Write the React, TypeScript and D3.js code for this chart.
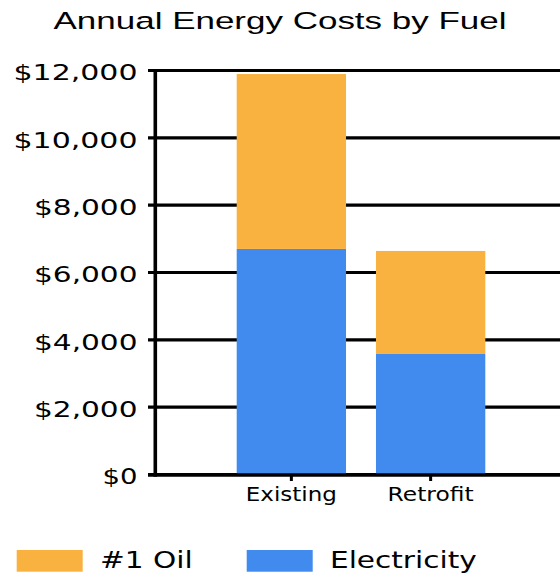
import React from "react";
import * as d3 from "d3";

const categories = ["Existing", "Retrofit"];
const electricity = [6700, 3580];
const oil = [5195, 3060];
const yTicks = [0, 2000, 4000, 6000, 8000, 10000, 12000];
const seriesNames = ["#1 Oil", "Electricity"];
const seriesColors = ["#F9B240", "#418BEE"];

const W = 560;
const H = 573;
const FONT = "'DejaVu Sans', Verdana, sans-serif";

// measured label widths (the reference is horizontally stretched)
const yLabelWidth = (s: string) => (s.length === 7 ? 124 : s.length === 6 ? 103.5 : 35);

export default function App() {
  const y = d3.scaleLinear().domain([0, 12000]).range([474.5, 70.5]);
  const x = d3
    .scaleBand<string>()
    .domain(categories)
    .range([236.7, 485.3])
    .paddingInner(0.215)
    .paddingOuter(0);

  const rows = categories.map((c, i) => ({ cat: c, Electricity: electricity[i], Oil: oil[i] }));
  const stack = d3.stack<any>().keys(["Electricity", "Oil"])(rows);
  const fmt = (v: number) => "$" + d3.format(",")(v);
  const catWidths: Record<string, number> = { Existing: 91, Retrofit: 86 };

  return (
    <svg
      width={W}
      height={H}
      style={{ position: "absolute", left: 0, top: 0, background: "#fff" }}
      fontFamily={FONT}
    >
      <text
        x={280}
        y={29}
        fontSize={24.5}
        fontFamily="'Liberation Sans', Arial, sans-serif"
        textAnchor="middle"
        textLength={453}
        lengthAdjust="spacingAndGlyphs"
        fill="#000"
      >
        Annual Energy Costs by Fuel
      </text>

      {/* gridlines + y ticks */}
      {yTicks.map((t) => (
        <g key={t}>
          <line x1={148} x2={W} y1={y(t)} y2={y(t)} stroke="#000" strokeWidth={3.2} />
          <text
            x={137.5}
            y={y(t) + 9.8}
            fontSize={21.5}
            textAnchor="end"
            textLength={yLabelWidth(fmt(t))}
            lengthAdjust="spacingAndGlyphs"
            fill="#000"
          >
            {fmt(t)}
          </text>
        </g>
      ))}

      {/* bars */}
      {stack.map((layer, li) => (
        <g key={layer.key} fill={li === 0 ? seriesColors[1] : seriesColors[0]}>
          {layer.map((d: any, i: number) => (
            <rect
              key={i}
              x={x(categories[i])}
              width={x.bandwidth()}
              y={y(d[1])}
              height={y(d[0]) - y(d[1])}
            />
          ))}
        </g>
      ))}

      {/* axes */}
      <line x1={155.3} x2={155.3} y1={69} y2={476.7} stroke="#000" strokeWidth={3.6} />
      <line x1={148} x2={W} y1={475} y2={475} stroke="#000" strokeWidth={3.4} />
      {categories.map((c) => {
        const cx = (x(c) as number) + x.bandwidth() / 2;
        return (
          <g key={c}>
            <line x1={cx} x2={cx} y1={475} y2={481} stroke="#000" strokeWidth={3} />
            <text
              x={cx}
              y={500.7}
              fontSize={19}
              textAnchor="middle"
              textLength={catWidths[c]}
              lengthAdjust="spacingAndGlyphs"
              fill="#000"
            >
              {c}
            </text>
          </g>
        );
      })}

      {/* legend */}
      {seriesNames.map((s, i) => {
        const sx = i === 0 ? 16.7 : 246.7;
        const tx = i === 0 ? 100 : 330;
        const tw = i === 0 ? 92.7 : 146.7;
        return (
          <g key={s}>
            <rect x={sx} y={550} width={66} height={21.7} fill={seriesColors[i]} />
            <text
              x={tx}
              y={568.3}
              fontSize={23}
              textLength={tw}
              lengthAdjust="spacingAndGlyphs"
              fill="#000"
            >
              {s}
            </text>
          </g>
        );
      })}
    </svg>
  );
}
